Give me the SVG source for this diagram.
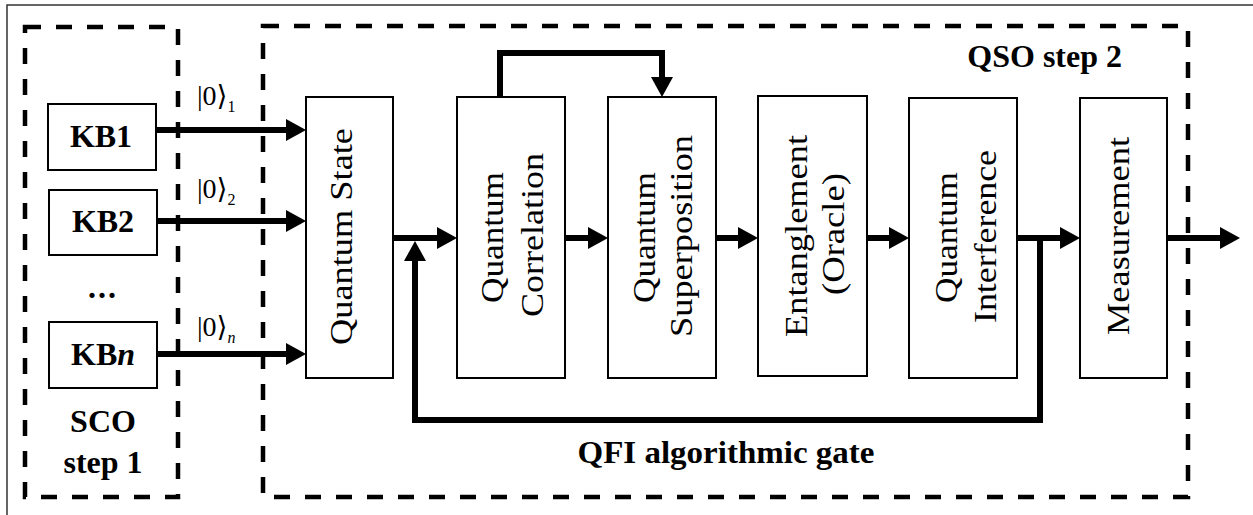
<svg xmlns="http://www.w3.org/2000/svg" width="1253" height="515" viewBox="0 0 1253 515">
<style>
.frame{fill:none;stroke:#333;stroke-width:1.5}
.dash{fill:none;stroke:#000;stroke-width:4.5;stroke-dasharray:16 15}
.box{fill:#fff;stroke:#000;stroke-width:2}
.con{fill:none;stroke:#000;stroke-width:6;stroke-linejoin:miter}
.arr{marker-end:url(#ah)}
.b{font-family:"Liberation Serif","Times New Roman",serif;font-weight:bold;font-size:32px;fill:#000}
.r{font-family:"Liberation Serif","Times New Roman",serif;font-size:31px;fill:#000}
.k{font-family:"Liberation Serif","DejaVu Serif","DejaVu Sans",serif;font-size:28px;fill:#000}
.sub{font-size:16px}
</style>
<defs>
<marker id="ah" markerUnits="userSpaceOnUse" markerWidth="20" markerHeight="22" refX="6" refY="11" orient="auto" overflow="visible">
<path d="M0,0 L20,11 L0,22 z" fill="#000"/>
</marker>
</defs>
<rect width="1253" height="515" fill="#fff"/>
<rect class="frame" x="7" y="5" width="1260" height="530"/>
<g id="sco-step1">
<rect class="dash" x="25" y="27" width="153" height="470"/>
<text class="b" x="103" y="432" text-anchor="middle">SCO</text>
<text class="b" x="103" y="473" text-anchor="middle">step 1</text>
</g>
<g id="qso-step2">
<rect class="dash" x="263" y="26" width="925" height="471"/>
<text class="b" x="1122" y="67" text-anchor="end">QSO step 2</text>
<text class="b" x="726" y="463" text-anchor="middle" textLength="297" lengthAdjust="spacingAndGlyphs">QFI algorithmic gate</text>
</g>
<g id="kb1">
<rect class="box" x="48" y="104" width="108" height="66"/>
<text class="b" x="101" y="147" text-anchor="middle">KB1</text>
</g>
<g id="kb2">
<rect class="box" x="49" y="190" width="108" height="65"/>
<text class="b" x="103" y="232" text-anchor="middle">KB2</text>
</g>
<g id="dots">
<text class="b" x="103" y="298" text-anchor="middle" letter-spacing="2">...</text>
</g>
<g id="kbn">
<rect class="box" x="49" y="322" width="108" height="66"/>
<text class="b" x="103" y="365" text-anchor="middle">KB<tspan font-style="italic">n</tspan></text>
</g>
<g id="quantum-state">
<rect class="box" x="306" y="97" width="87" height="281"/>
<text class="r" transform="translate(352,236.5) rotate(-90)" text-anchor="middle" textLength="217" lengthAdjust="spacingAndGlyphs">Quantum State</text>
</g>
<g id="quantum-correlation">
<rect class="box" x="457" y="97" width="108" height="281"/>
<text class="r" transform="translate(503,237.5) rotate(-90)" text-anchor="middle" textLength="131" lengthAdjust="spacingAndGlyphs">Quantum</text>
<text class="r" transform="translate(543,235) rotate(-90)" text-anchor="middle" textLength="164" lengthAdjust="spacingAndGlyphs">Correlation</text>
</g>
<g id="quantum-superposition">
<rect class="box" x="608" y="97" width="108" height="281"/>
<text class="r" transform="translate(655,237.5) rotate(-90)" text-anchor="middle" textLength="131" lengthAdjust="spacingAndGlyphs">Quantum</text>
<text class="r" transform="translate(692,236) rotate(-90)" text-anchor="middle" textLength="202" lengthAdjust="spacingAndGlyphs">Superposition</text>
</g>
<g id="entanglement">
<rect class="box" x="758" y="96" width="109" height="280"/>
<text class="r" transform="translate(807,236) rotate(-90)" text-anchor="middle" textLength="202" lengthAdjust="spacingAndGlyphs">Entanglement</text>
<text class="r" transform="translate(844,234) rotate(-90)" text-anchor="middle" textLength="122" lengthAdjust="spacingAndGlyphs">(Oracle)</text>
</g>
<g id="quantum-interference">
<rect class="box" x="909" y="98" width="108" height="280"/>
<text class="r" transform="translate(957,237.5) rotate(-90)" text-anchor="middle" textLength="131" lengthAdjust="spacingAndGlyphs">Quantum</text>
<text class="r" transform="translate(996,236.5) rotate(-90)" text-anchor="middle" textLength="173" lengthAdjust="spacingAndGlyphs">Interference</text>
</g>
<g id="measurement">
<rect class="box" x="1080" y="98" width="87" height="280"/>
<text class="r" transform="translate(1129,236) rotate(-90)" text-anchor="middle" textLength="198" lengthAdjust="spacingAndGlyphs">Measurement</text>
</g>
<g id="connectors">
<path class="con arr" d="M156,130 H292"/>
<path class="con arr" d="M157,221 H292"/>
<path class="con arr" d="M157,354 H292"/>
<path class="con arr" d="M393,238 H443"/>
<path class="con arr" d="M565,238 H594"/>
<path class="con arr" d="M716,238 H744"/>
<path class="con arr" d="M867,238 H895"/>
<path class="con arr" d="M1017,238 H1066"/>
<path class="con arr" d="M1167,238 H1226"/>
<path class="con arr" d="M500,97 V53 H662 V83"/>
<path class="con arr" d="M1040,238 V420 H415 V255"/>
<text class="k" x="197" y="105">|0⟩<tspan class="sub" dy="7">1</tspan></text>
<text class="k" x="197" y="198">|0⟩<tspan class="sub" dy="7">2</tspan></text>
<text class="k" x="197" y="336">|0⟩<tspan class="sub" dy="7" font-style="italic">n</tspan></text>
</g>
</svg>
